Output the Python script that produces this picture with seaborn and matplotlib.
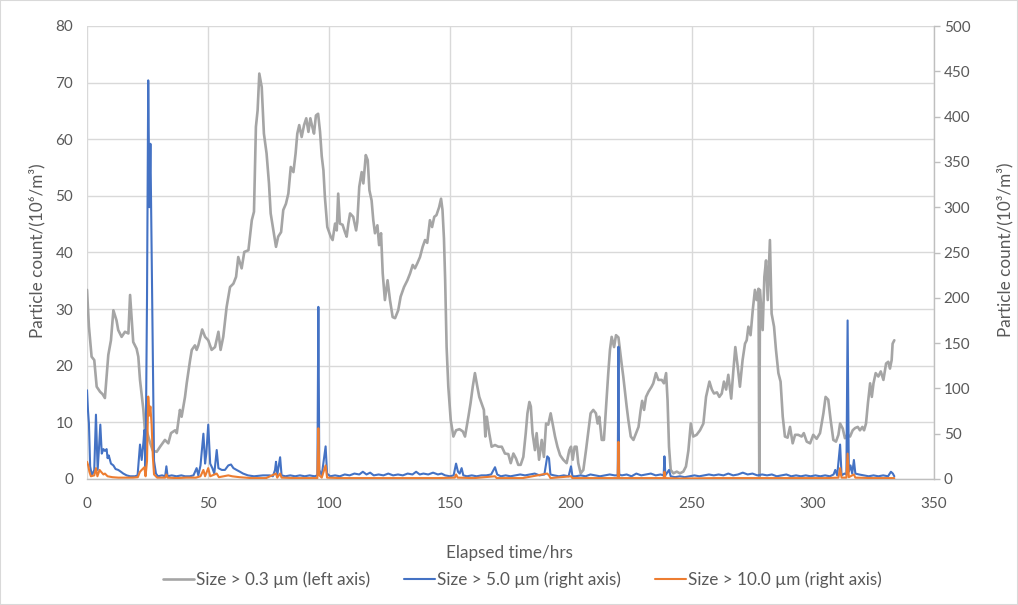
import matplotlib
matplotlib.use("Agg")
import matplotlib.pyplot as plt
from matplotlib.patches import Rectangle
import pandas as pd
import seaborn as sns

# ---- particle counts > 0.3 um (left axis, 10^6/m^3) ----
fine_hours = [
    0.0, 0.8, 1.9, 3.0, 4.0, 5.4, 6.4, 7.4, 8.0, 8.8, 9.9, 10.9, 12.2, 12.9, 14.3, 15.7,
    17.1, 17.8, 18.5, 19.1, 20.5, 21.2, 21.9, 23.3, 24.0, 24.6, 26.0, 27.2, 28.8, 30.2,
    32.2, 33.6, 34.7, 36.4, 37.1, 38.4, 39.1, 40.5, 41.2, 42.6, 43.3, 44.6, 45.3, 46.0,
    47.6, 48.8, 50.1, 51.5, 52.9, 54.3, 55.2, 56.3, 57.7, 59.1, 60.5, 61.6, 62.5, 63.9,
    65.0, 66.7, 68.1, 69.0, 69.8, 70.5, 71.2, 72.2, 73.1, 74.2, 75.2, 75.9, 77.0, 78.1,
    79.0, 80.2, 81.1, 82.2, 83.2, 84.2, 85.3, 86.2, 86.9, 87.7, 88.7, 89.7, 90.6, 91.5,
    92.3, 93.1, 93.8, 94.6, 95.5, 96.3, 97.0, 97.7, 98.3, 99.3, 100.7, 101.5, 102.5,
    103.2, 103.8, 104.5, 105.6, 106.6, 107.3, 108.0, 108.7, 110.0, 111.2, 111.7, 112.5,
    113.5, 114.2, 115.2, 116.0, 116.7, 117.6, 118.3, 119.0, 120.0, 120.7, 121.5, 122.2,
    123.1, 124.2, 125.2, 126.3, 127.3, 128.6, 129.6, 131.0, 132.4, 133.5, 134.6, 135.5,
    136.5, 137.6, 138.7, 139.7, 140.6, 141.7, 142.6, 143.5, 144.4, 145.5, 146.3, 146.9,
    147.5, 148.0, 148.6, 149.3, 150.3, 151.4, 152.5, 153.9, 155.3, 156.2, 157.6, 158.5,
    159.4, 160.3, 161.3, 162.1, 163.0, 164.0, 164.6, 165.2, 166.2, 167.2, 168.6, 170.0,
    171.4, 172.7, 174.1, 175.1, 176.2, 177.3, 178.2, 179.2, 180.3, 181.3, 182.0, 182.8,
    183.4, 184.1, 185.1, 185.8, 186.8, 187.9, 188.8, 189.7, 190.6, 191.6, 192.4, 193.4,
    194.4, 195.5, 196.8, 198.2, 199.3, 200.0, 200.7, 201.5, 202.3, 203.0, 204.0, 205.1,
    206.2, 207.2, 208.1, 209.2, 210.3, 211.0, 211.7, 212.7, 213.6, 214.5, 215.4, 216.1,
    216.8, 217.8, 218.6, 219.6, 220.2, 220.9, 221.6, 223.0, 223.7, 224.7, 225.8, 226.9,
    227.9, 228.8, 229.4, 230.2, 231.0, 232.0, 233.3, 234.0, 235.1, 236.1, 237.5, 238.4,
    239.3, 239.9, 240.5, 241.2, 242.3, 243.7, 245.0, 246.4, 247.5, 248.5, 249.5, 250.5,
    251.9, 253.3, 254.7, 255.8, 257.2, 258.2, 259.1, 260.3, 261.3, 262.3, 263.2, 264.1,
    265.0, 266.2, 267.1, 267.9, 268.9, 269.8, 270.9, 271.9, 272.6, 273.3, 274.2, 275.1,
    276.0, 276.7, 277.5, 277.8, 278.1, 279.2, 279.9, 280.6, 281.3, 282.2, 282.9, 283.9,
    284.7, 285.7, 286.6, 287.5, 288.4, 289.5, 290.5, 291.6, 292.6, 293.9, 295.3, 296.2,
    297.4, 298.8, 300.1, 301.5, 302.9, 304.3, 305.2, 306.3, 307.3, 308.4, 309.5, 310.5,
    311.2, 312.3, 313.2, 314.2, 315.3, 316.4, 317.4, 318.5, 319.4, 320.4, 321.1, 321.9,
    322.7, 323.6, 324.3, 325.0, 325.9, 327.0, 328.0, 329.1, 330.2, 331.1, 331.8, 332.5,
    332.9, 333.6,
]
fine_counts = [
    33.4, 26.9, 21.6, 21.0, 16.3, 15.4, 15.0, 14.3, 17.5, 21.9, 24.5, 29.8, 28.0, 26.3, 25.1, 26.0,
    25.7, 32.5, 28.0, 24.2, 23.0, 21.6, 17.5, 12.2, 8.1, 8.6, 6.5, 5.0, 4.8, 5.7,
    6.9, 6.3, 8.1, 8.6, 8.1, 12.2, 11.0, 14.5, 16.9, 21.0, 22.8, 23.6, 22.8, 23.6,
    26.4, 25.1, 24.5, 22.8, 23.3, 26.0, 22.8, 25.1, 30.4, 33.9, 34.5, 35.7, 39.2, 37.2,
    40.1, 40.4, 45.7, 47.2, 62.2, 65.1, 71.6, 69.2, 61.0, 57.5, 52.2, 46.9, 43.9, 41.0,
    42.8, 43.6, 47.5, 48.6, 50.4, 55.1, 54.2, 57.5, 61.0, 62.5, 60.4, 62.5, 63.7, 61.3,
    63.7, 62.2, 61.0, 64.2, 64.5, 61.3, 57.0, 54.5, 49.8, 44.5, 42.8, 42.2, 45.1,
    43.9, 50.4, 45.1, 44.9, 43.6, 42.8, 45.1, 46.9, 46.3, 43.9, 45.4, 51.6,
    54.2, 52.2, 57.2, 56.3, 51.0, 49.2, 45.7, 43.4, 44.8, 41.3, 43.4, 36.3,
    31.6, 35.1, 31.6, 28.6, 28.4, 29.8, 32.2, 33.9, 35.1, 36.3, 37.8, 37.2,
    38.1, 39.2, 41.0, 42.2, 41.7, 45.7, 44.5, 46.3, 46.6, 48.0, 49.5, 47.5,
    42.5, 35.1, 23.3, 16.3, 10.4, 7.5, 8.6, 8.8, 8.4, 7.5, 11.0, 13.4,
    16.3, 18.7, 16.3, 14.5, 13.4, 12.2, 7.5, 11.0, 8.1, 5.7, 6.0, 5.7,
    5.7, 4.5, 4.4, 2.8, 4.5, 3.6, 2.5, 2.5, 3.9, 8.1, 11.6, 13.6,
    12.8, 8.1, 5.1, 8.1, 3.4, 6.9, 3.9, 9.8, 9.6, 11.6, 9.8, 7.5,
    5.7, 4.2, 3.4, 2.8, 5.1, 5.7, 3.4, 5.7, 5.7, 2.8, 1.0, 1.6,
    5.1, 8.6, 11.6, 12.2, 11.6, 9.8, 11.0, 6.9, 6.9, 12.8, 18.7, 22.8,
    25.1, 23.3, 25.4, 25.0, 22.8, 20.4, 18.1, 12.8, 10.4, 7.5, 6.9, 8.1,
    9.2, 12.2, 13.8, 12.2, 14.5, 15.4, 16.3, 16.9, 18.7, 17.5, 17.5, 16.9,
    18.7, 13.9, 5.7, 1.6, 1.0, 1.3, 1.0, 1.3, 2.2, 5.0, 9.8, 7.5,
    7.8, 8.6, 9.8, 14.5, 17.2, 15.8, 15.1, 15.3, 14.5, 15.1, 17.2, 15.8,
    18.4, 14.2, 19.2, 23.3, 19.8, 16.3, 21.0, 23.9, 24.5, 26.9, 25.4, 29.8,
    33.4, 31.6, 33.6, 0.4, 33.4, 26.3, 35.7, 38.6, 31.6, 42.2, 29.2, 26.9,
    22.8, 18.7, 17.2, 11.0, 7.5, 7.3, 9.2, 6.3, 7.8, 7.8, 7.5, 8.1,
    6.6, 6.3, 7.8, 7.1, 8.1, 11.6, 14.5, 14.0, 10.4, 6.9, 6.6, 7.8,
    9.8, 8.9, 7.2, 7.8, 7.5, 8.6, 9.0, 9.2, 8.6, 9.2, 8.6, 9.8,
    13.4, 16.9, 14.5, 16.9, 18.7, 18.1, 19.0, 17.5, 20.4, 20.7, 19.5, 21.0,
    23.9, 24.5,
]

# ---- particle counts > 5.0 um (right axis, 10^3/m^3) ----
mid_hours = [
    0.0, 0.4, 0.8, 1.3, 2.0, 3.0, 3.7, 4.4, 5.0, 5.5, 6.1, 6.8, 7.4, 8.1, 8.5, 9.0,
    9.9, 10.9, 11.8, 12.9, 14.0, 15.0, 16.4, 17.8, 19.8, 20.9, 21.9, 22.6, 23.3, 23.7,
    24.2, 24.8, 25.3, 25.8, 26.2, 26.7, 27.2, 27.7, 28.5, 29.3, 31.0, 32.3, 32.8, 33.3,
    35.0, 37.0, 39.0, 40.5, 42.5, 44.0, 45.3, 46.0, 46.9, 48.1, 48.8, 49.3, 50.1, 50.9,
    51.8, 52.6, 53.6, 54.3, 55.7, 57.0, 58.4, 59.5, 60.5, 61.8, 63.2, 64.5, 66.5, 69.0,
    72.7, 75.5, 76.8, 77.7, 78.1, 78.6, 79.8, 80.4, 82.0, 84.0, 86.0, 88.0, 90.0, 92.0,
    94.0, 95.2, 95.6, 96.0, 97.0, 98.6, 99.2, 100.5, 102.5, 104.5, 106.5, 108.5, 110.5,
    112.5, 114.0, 115.5, 117.0, 118.5, 120.5, 122.5, 124.5, 126.5, 128.5, 130.5, 132.5,
    134.5, 136.0, 137.5, 139.0, 141.0, 143.0, 145.0, 146.5, 148.0, 150.0, 151.5, 152.5,
    153.3, 154.0, 154.8, 155.5, 157.0, 159.0, 161.0, 163.0, 165.0, 167.0, 168.6, 169.5,
    171.0, 173.0, 175.0, 177.0, 179.0, 181.0, 183.0, 185.0, 187.0, 189.0, 190.2, 190.9,
    191.5, 193.0, 195.0, 197.0, 199.0, 200.0, 200.6, 202.0, 204.0, 206.0, 208.0, 210.0,
    212.0, 214.0, 216.0, 218.0, 219.3, 219.6, 219.9, 221.0, 223.0, 225.0, 227.0, 229.0,
    231.0, 233.0, 235.0, 237.0, 238.3, 238.6, 239.0, 240.5, 241.2, 243.0, 245.0, 247.0,
    249.0, 251.0, 253.0, 255.0, 257.0, 259.0, 261.0, 263.0, 265.0, 267.0, 269.0, 271.0,
    273.0, 275.0, 277.0, 279.0, 281.0, 283.0, 285.0, 287.0, 289.0, 291.0, 293.0, 295.0,
    297.0, 299.0, 301.0, 303.0, 305.0, 307.0, 308.5, 309.2, 310.0, 311.2, 311.8, 313.0,
    313.8, 314.3, 314.8, 315.5, 316.2, 316.9, 317.5, 319.0, 321.0, 323.0, 325.0, 327.0,
    329.0, 331.0, 332.2, 333.0, 333.6,
]
mid_counts = [
    98, 76, 61, 14, 4, 10, 71, 10, 36, 60, 28, 33, 31, 33, 23, 26,
    17, 15, 11, 10, 8, 6, 4, 3, 3, 4, 38, 21, 40, 54,
    10, 200, 440, 300, 370, 250, 140, 20, 6, 3, 4, 3, 14, 3,
    4, 3, 4, 3, 3, 4, 12, 4, 15, 50, 17, 28, 60, 17,
    12, 6, 32, 12, 10, 10, 15, 16, 12, 10, 8, 6, 4, 3,
    4, 4, 3, 10, 19, 4, 24, 4, 3, 4, 3, 4, 3, 4,
    3, 4, 190, 10, 4, 36, 6, 3, 4, 3, 5, 4, 6,
    5, 8, 5, 7, 4, 5, 4, 6, 4, 5, 4, 6,
    5, 8, 5, 6, 5, 7, 5, 6, 4, 3, 4, 17,
    8, 6, 12, 4, 3, 4, 3, 4, 4, 5, 13, 5,
    3, 4, 3, 4, 5, 4, 5, 6, 4, 5, 25, 23,
    5, 4, 3, 4, 3, 14, 3, 3, 4, 3, 5, 4,
    3, 4, 5, 4, 4, 146, 5, 4, 5, 3, 6, 4,
    5, 6, 4, 5, 4, 25, 4, 10, 3, 2, 3, 2,
    3, 4, 3, 4, 5, 4, 5, 4, 6, 4, 5, 7,
    5, 6, 4, 5, 4, 5, 3, 4, 5, 3, 4, 3,
    4, 3, 4, 3, 4, 3, 5, 10, 4, 38, 4, 6,
    5, 175, 8, 15, 6, 21, 6, 5, 4, 3, 4, 3,
    4, 3, 8, 6, 3,
]

# ---- particle counts > 10.0 um (right axis, 10^3/m^3) ----
coarse_hours = [
    0.0, 0.5, 1.0, 1.6, 3.0, 3.7, 4.3, 5.2, 5.8, 6.8, 7.4, 8.5, 10.5, 13.0, 16.0, 19.0,
    21.0, 21.9, 22.6, 23.7, 24.2, 24.8, 25.3, 25.8, 26.2, 26.7, 27.2, 27.7, 29.0, 32.3,
    32.8, 33.3, 37.0, 41.0, 45.0, 46.9, 48.1, 48.8, 50.1, 50.9, 53.6, 54.5, 58.4, 60.0,
    63.0, 68.0, 74.0, 78.1, 78.6, 79.8, 80.4, 86.0, 92.0, 95.2, 95.6, 96.0, 97.0, 98.6,
    99.2, 105.0, 115.0, 125.0, 135.0, 145.0, 152.0, 152.5, 153.2, 160.0, 168.6, 169.3,
    180.0, 190.2, 190.9, 191.5, 200.0, 200.6, 210.0, 219.3, 219.6, 219.9, 230.0, 238.3,
    238.6, 239.0, 245.0, 260.0, 275.0, 290.0, 305.0, 310.5, 311.2, 311.8, 313.8, 314.3,
    314.8, 316.9, 317.5, 325.0, 333.6,
]
coarse_counts = [
    19, 15, 8, 3, 4, 12, 3, 10, 8, 5, 6, 3, 2, 1.5, 1.5, 1.5,
    2, 8, 10, 13, 3, 20, 91, 70, 80, 60, 25, 5, 1.5, 1.5,
    5, 1.5, 1, 1.5, 1.5, 3, 10, 3, 12, 3, 6, 2, 4, 3,
    2, 1, 1, 6, 1.5, 6, 1.5, 1, 1, 1, 56, 4, 1.5, 15,
    1.5, 1, 1, 1, 1, 1, 1.5, 5, 1.5, 1, 3, 1,
    1, 6, 4, 1, 3, 1, 1, 1, 41, 1, 1, 1,
    8, 1, 0.5, 1, 1, 1, 1, 1.5, 12, 1.5, 1.5, 28,
    2, 5, 1.5, 1, 1,
]

series_labels = [
    "Size > 0.3 µm (left axis)",
    "Size > 5.0 µm (right axis)",
    "Size > 10.0 µm (right axis)",
]
x_ticks = [0, 50, 100, 150, 200, 250, 300, 350]
left_ticks = [0, 10, 20, 30, 40, 50, 60, 70, 80]
right_ticks = [0, 50, 100, 150, 200, 250, 300, 350, 400, 450, 500]

fine = pd.DataFrame({"hours": fine_hours, "count": fine_counts})
mid = pd.DataFrame({"hours": mid_hours, "count": mid_counts})
coarse = pd.DataFrame({"hours": coarse_hours, "count": coarse_counts})

sns.set_theme(style="white")
plt.rcParams["font.family"] = ["Lato", "DejaVu Sans"]

TEXT = "#595959"
GRID = "#D9D9D9"
GREY = "#A5A5A5"
BLUE = "#4472C4"
ORANGE = "#ED7D31"

fig = plt.figure(figsize=(10.18, 6.05), dpi=100)
ax = fig.add_axes([87 / 1018, 1 - 479 / 605, 847 / 1018, 453 / 605])
ax2 = ax.twinx()

sns.lineplot(data=fine, x="hours", y="count", ax=ax, color=GREY, linewidth=1.9,
             estimator=None, sort=False, label=series_labels[0], legend=False)
sns.lineplot(data=mid, x="hours", y="count", ax=ax2, color=BLUE, linewidth=1.5,
             estimator=None, sort=False, label=series_labels[1], legend=False)
sns.lineplot(data=coarse, x="hours", y="count", ax=ax2, color=ORANGE, linewidth=1.5,
             estimator=None, sort=False, label=series_labels[2], legend=False)

ax.set_xlim(0, 350)
ax.set_ylim(0, 80)
ax2.set_ylim(0, 500)
ax.set_xticks(x_ticks)
ax.set_yticks(left_ticks)
ax2.set_yticks(right_ticks)

ax.grid(True, color=GRID, linewidth=1.0)
ax.set_axisbelow(True)
ax2.grid(False)

for side in ["top", "right", "left"]:
    ax.spines[side].set_visible(False)
ax.spines["bottom"].set_color("#BFBFBF")
ax.spines["bottom"].set_linewidth(1.0)
for side in ["top", "left", "bottom"]:
    ax2.spines[side].set_visible(False)
ax2.spines["right"].set_color("#BFBFBF")
ax2.spines["right"].set_linewidth(1.0)

ax.tick_params(axis="x", length=0, pad=13, labelsize=11, labelcolor=TEXT)
ax.tick_params(axis="y", length=0, pad=10, labelsize=11, labelcolor=TEXT)
ax2.tick_params(axis="y", length=4, width=1, color="#BFBFBF", pad=3,
                labelsize=11, labelcolor=TEXT)

ax.set_xlabel("Elapsed time/hrs", fontsize=12.3, color=TEXT)
ax.set_ylabel("Particle count/(10⁶/m³)", fontsize=12.3, color=TEXT, va="center")
ax2.set_ylabel("Particle count/(10³/m³)", fontsize=12.3, color=TEXT, va="center",
               rotation=90)
ax.xaxis.set_label_coords(0.499, -0.145)
ax.yaxis.set_label_coords(-0.059, 0.505)
ax2.yaxis.set_label_coords(1.084, 0.505)

handles = ax.get_lines()[:1] + ax2.get_lines()[:2]
fig.legend(handles, series_labels, loc="center", bbox_to_anchor=(0.513, 1 - 580 / 605),
           ncol=3, frameon=False, fontsize=12.3, labelcolor=TEXT,
           handlelength=1.8, handletextpad=0.12, columnspacing=2.0)

fig.patches.append(Rectangle((0, 0), 1, 1, transform=fig.transFigure, fill=False,
                             edgecolor=GRID, linewidth=1.5))

fig.savefig("out.png", dpi=100)
